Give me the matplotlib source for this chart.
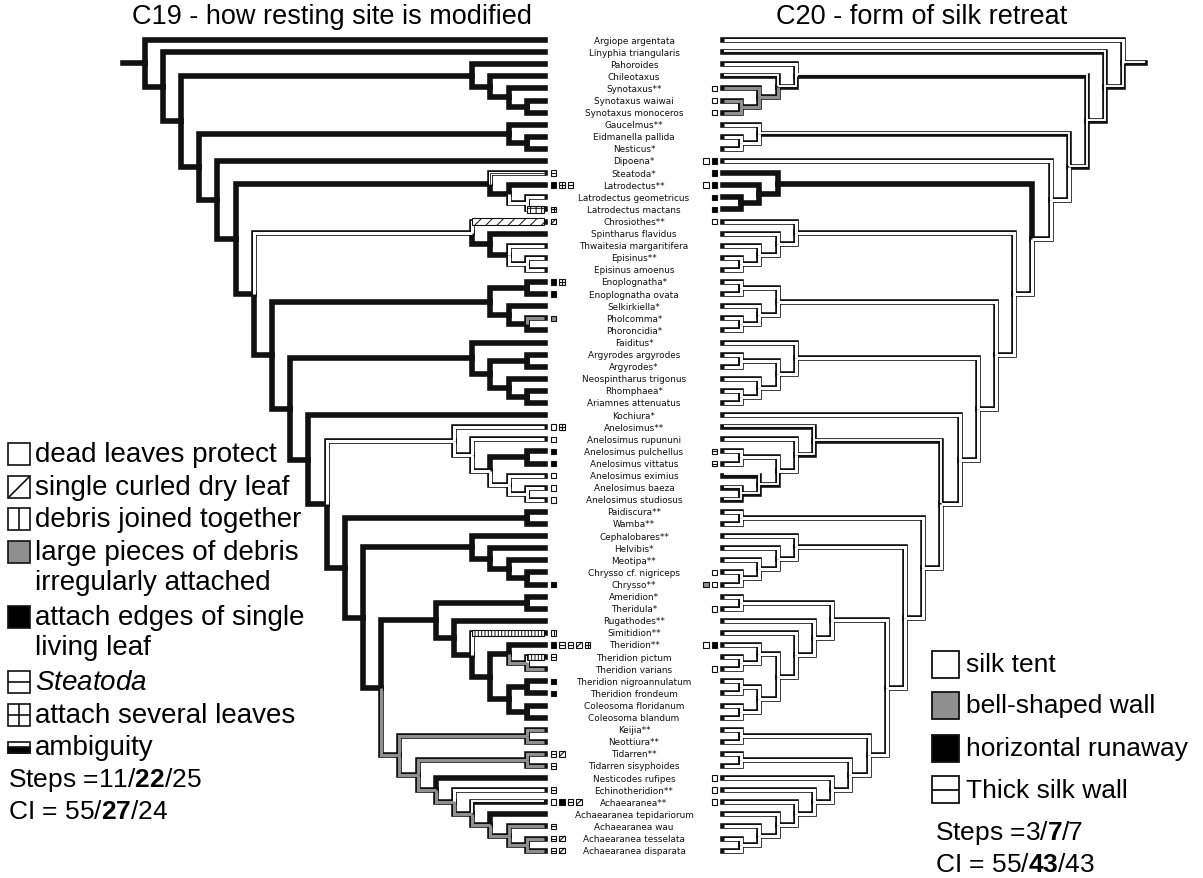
import matplotlib
matplotlib.use("Agg")
import matplotlib.pyplot as plt
from matplotlib.patches import Rectangle

plt.rcParams['font.family'] = ['Liberation Sans', 'DejaVu Sans']
plt.rcParams['mathtext.fontset'] = 'custom'
plt.rcParams['mathtext.rm'] = 'Liberation Sans'
plt.rcParams['mathtext.bf'] = 'Liberation Sans:bold'
plt.rcParams['mathtext.it'] = 'Liberation Sans:italic'
plt.rcParams['hatch.linewidth'] = 0.7

# ---------------- data ----------------
TAXA = [
    "Argiope argentata", "Linyphia triangularis", "Pahoroides", "Chileotaxus",
    "Synotaxus**", "Synotaxus waiwai", "Synotaxus monoceros", "Gaucelmus**",
    "Eidmanella pallida", "Nesticus*", "Dipoena*", "Steatoda*", "Latrodectus**",
    "Latrodectus geometricus", "Latrodectus mactans", "Chrosiothes**",
    "Spintharus flavidus", "Thwaitesia margaritifera", "Episinus**",
    "Episinus amoenus", "Enoplognatha*", "Enoplognatha ovata", "Selkirkiella*",
    "Pholcomma*", "Phoroncidia*", "Faiditus*", "Argyrodes argyrodes",
    "Argyrodes*", "Neospintharus trigonus", "Rhomphaea*", "Ariamnes attenuatus",
    "Kochiura*", "Anelosimus**", "Anelosimus rupununi", "Anelosimus pulchellus",
    "Anelosimus vittatus", "Anelosimus eximius", "Anelosimus baeza",
    "Anelosimus studiosus", "Paidiscura**", "Wamba**", "Cephalobares**",
    "Helvibis*", "Meotipa**", "Chrysso cf. nigriceps", "Chrysso**",
    "Ameridion*", "Theridula*", "Rugathodes**", "Simitidion**", "Theridion**",
    "Theridion pictum", "Theridion varians", "Theridion nigroannulatum",
    "Theridion frondeum", "Coleosoma floridanum", "Coleosoma blandum",
    "Keijia**", "Neottiura**", "Tidarren**", "Tidarren sisyphoides",
    "Nesticodes rufipes", "Echinotheridion**", "Achaearanea**",
    "Achaearanea tepidariorum", "Achaearanea wau", "Achaearanea tesselata",
    "Achaearanea disparata",
]

# clades (as tip indices) hanging off the backbone, top to bottom
SYNOTAXUS = (2, (3, (4, (5, 6))))
NESTICIDS = (7, (8, 9))
LATRODECTUS = (11, (12, (13, 14)))
SPINTHARINES = (15, (16, (17, (18, 19))))
ENOPLOGNATHA = ((20, 21), (22, (23, 24)))
ARGYRODINES = (25, ((26, 27), (28, (29, 30))))
ANELOSIMUS = (32, (33, ((34, 35), (36, (37, 38)))))
PAIDISCURA = (39, 40)
CHRYSSO = (41, (42, (43, (44, 45))))
THERIDION = ((46, 47), (48, (49, ((50, (51, 52)), ((53, 54), (55, 56))))))
KEIJIA = (57, 58)
ACHAEARANEA = ((59, 60), (61, (62, (63, (64, (65, (66, 67)))))))
BACKBONE = [0, 1, SYNOTAXUS, NESTICIDS, 10, LATRODECTUS, SPINTHARINES,
            ENOPLOGNATHA, ARGYRODINES, 31, ANELOSIMUS, PAIDISCURA, CHRYSSO,
            THERIDION, KEIJIA, ACHAEARANEA]

# C19 branch states, keyed by (first tip, last tip) of the clade; default black
C19_STATES = {
    (11, 11): 'steatoda', (13, 14): 'hollow', (13, 13): 'hollow', (14, 14): 'grid',
    (15, 19): 'hollow', (15, 15): 'diag', (17, 17): 'hollow', (18, 19): 'hollow',
    (18, 18): 'hollow', (19, 19): 'hollow', (23, 23): 'gray',
    (32, 38): 'hollow', (32, 32): 'hollow', (33, 38): 'hollow', (33, 33): 'hollow',
    (34, 38): 'hollow', (36, 38): 'hollow', (36, 36): 'hollow', (37, 38): 'hollow',
    (37, 37): 'hollow', (38, 38): 'hollow',
    (49, 49): 'vert', (51, 52): 'gray', (51, 51): 'vert', (52, 52): 'gray',
    (57, 67): 'gray', (57, 58): 'gray', (57, 57): 'gray', (58, 58): 'gray',
    (59, 67): 'gray', (59, 60): 'gray', (59, 59): 'gray', (60, 60): 'gray',
    (61, 67): 'gray', (62, 67): 'gray', (62, 62): 'hollow', (63, 67): 'gray',
    (63, 63): 'amb', (64, 67): 'gray', (65, 67): 'gray', (65, 65): 'gray',
    (66, 67): 'gray', (66, 66): 'gray', (67, 67): 'gray',
}
C19_MARKS = {
    11: ['steatoda'], 12: ['black', 'grid', 'steatoda'], 14: ['grid'],
    15: ['diag'], 20: ['black', 'grid'], 21: ['black'], 23: ['gray'],
    32: ['hollow', 'grid'], 33: ['hollow'], 34: ['black'], 35: ['black'],
    36: ['hollow'], 37: ['hollow'], 38: ['hollow'], 45: ['black'],
    49: ['vert'], 50: ['black', 'steatoda', 'steatoda', 'diag', 'grid'],
    51: ['steatoda'], 53: ['black'], 54: ['black'], 59: ['steatoda', 'diag'],
    60: ['steatoda'], 62: ['steatoda'], 63: ['hollow', 'black', 'steatoda', 'diag'],
    65: ['steatoda'], 66: ['steatoda', 'diag'], 67: ['steatoda', 'diag'],
}
# C20 branch states; default silk tent (hollow)
C20_STATES = {
    (0, 67): 'amb', (1, 67): 'amb', (1, 1): 'amb', (2, 67): 'amb', (2, 6): 'amb',
    (3, 6): 'amb', (3, 3): 'amb', (4, 6): 'gray', (4, 4): 'gray', (5, 6): 'gray',
    (5, 5): 'gray', (6, 6): 'gray', (7, 67): 'amb', (7, 9): 'amb',
    (11, 14): 'black', (11, 11): 'black', (12, 14): 'black', (12, 12): 'black',
    (13, 14): 'black', (13, 13): 'black', (14, 14): 'black',
    (32, 38): 'amb', (32, 32): 'amb', (33, 38): 'amb', (36, 38): 'amb',
    (36, 36): 'amb', (37, 38): 'amb', (37, 37): 'amb', (38, 38): 'amb',
}
C20_MARKS = {
    4: ['hollow'], 5: ['hollow'], 6: ['hollow'], 10: ['hollow', 'black'],
    11: ['black'], 12: ['hollow', 'black'], 13: ['black'], 14: ['black'],
    15: ['hollow'], 34: ['steatoda'], 35: ['steatoda'], 44: ['hollow'],
    45: ['gray', 'hollow'], 47: ['hollow'], 50: ['hollow', 'black'],
    52: ['hollow'], 61: ['hollow'], 62: ['hollow'], 63: ['hollow'],
}

TITLE_C19 = "C19 - how resting site is modified"
TITLE_C20 = "C20 - form of silk retreat"
LEGEND_C19 = [
    ('hollow', 'dead leaves protect'), ('diag', 'single curled dry leaf'),
    ('vert', 'debris joined together'),
    ('gray', 'large pieces of debris\nirregularly attached'),
    ('black', 'attach edges of single\nliving leaf'),
    ('steatoda', r'$\it{Steatoda}$'), ('grid', 'attach several leaves'),
    ('amb', 'ambiguity'),
]
STATS_C19 = [r'Steps =11/$\mathbf{22}$/25', r'CI = 55/$\mathbf{27}$/24']
LEGEND_C20 = [('hollow', 'silk tent'), ('gray', 'bell-shaped wall'),
              ('black', 'horizontal runaway'), ('steatoda', 'Thick silk wall')]
STATS_C20 = [r'Steps =3/$\mathbf{7}$/7', r'CI = 55/$\mathbf{43}$/43']

# ---------------- layout ----------------
W, H = 1203, 879
Y0, DY = 41.0, 12.1
STEP = 18.2
TIP_L, TIP_R = 545.0, 723.0
PX = 0.72          # points per pixel at dpi 100
W_OUT, W_IN = 5.6, 3.0
GRAY = '#8f8f8f'
OUTLINE = '#111111'

tree = BACKBONE[-1]
for clade in reversed(BACKBONE[:-1]):
    tree = (clade, tree)


def layout(node, branches):
    if isinstance(node, int):
        return (Y0 + node * DY, 0, node, node)
    infos = [layout(c, branches) for c in node]
    y = sum(i[0] for i in infos) / len(infos)
    h = 1 + max(i[1] for i in infos)
    for cy, ch, lo, hi in infos:
        branches.append(dict(ph=h, py=y, ch=ch, cy=cy, key=(lo, hi)))
    return (y, h, infos[0][2], infos[-1][3])


BRANCHES = []
ROOT_Y, ROOT_H, _, _ = layout(tree, BRANCHES)

fig = plt.figure(figsize=(W / 100, H / 100), dpi=100)
ax = fig.add_axes([0, 0, 1, 1])
ax.set_xlim(0, W)
ax.set_ylim(H, 0)
ax.axis('off')


def line(xs, ys, color, wpx, z, cap='projecting'):
    ax.plot(xs, ys, color=color, lw=wpx * PX, solid_joinstyle='miter',
            solid_capstyle=cap, zorder=z)


def icon(cx, cy, w, h, st, lw):
    fc = {'black': 'black', 'gray': GRAY}.get(st, 'white')
    x0, x1, y0, y1 = cx - w / 2, cx + w / 2, cy - h / 2, cy + h / 2
    ax.add_patch(Rectangle((x0, y0), w, h, facecolor=fc, edgecolor=OUTLINE,
                           lw=lw, zorder=4))
    kw = dict(color=OUTLINE, lw=lw, zorder=5, solid_capstyle='butt')
    if st == 'diag':
        ax.plot([x0, x1], [y1, y0], **kw)
    if st in ('vert', 'grid'):
        ax.plot([cx, cx], [y0, y1], **kw)
    if st in ('steatoda', 'grid'):
        ax.plot([x0, x1], [cy, cy], **kw)
    if st == 'amb':
        ax.add_patch(Rectangle((x0, cy), w, h / 2, facecolor='black',
                               edgecolor=OUTLINE, lw=lw, zorder=5))


def draw_tree(xfun, states, default, stub_dir, marks, mark_dir):
    items = []
    for b in BRANCHES:
        xp, xc = xfun(b['ph']), xfun(b['ch'])
        items.append(([xp, xp, xc], [b['py'], b['cy'], b['cy']],
                      states.get(b['key'], default), b['ch'] == 0))
    xr = xfun(ROOT_H)
    items.append(([xr + stub_dir * 22, xr], [ROOT_Y, ROOT_Y],
                  states.get((0, len(TAXA) - 1), default), False))
    for xs, ys, st, _ in items:
        line(xs, ys, OUTLINE, W_OUT, 1)
    for xs, ys, st, term in items:
        if st == 'black':
            continue
        xs = list(xs)
        if term:
            d = 1 if xs[-1] > xs[0] else -1
            xs[-1] -= d * 1.4
        if st in ('hollow', 'diag', 'vert', 'grid', 'steatoda'):
            line(xs, ys, 'white', W_IN, 2, cap='butt')
        elif st == 'gray':
            line(xs, ys, GRAY, W_IN, 2, cap='butt')
        elif st == 'amb':
            line(xs, [y - 1.1 for y in ys], 'white', 1.9, 2, cap='butt')
        if st == 'steatoda':
            line(xs, ys, OUTLINE, 0.8, 3, cap='butt')
        if st in ('diag', 'vert', 'grid'):
            hatch = {'diag': '///', 'vert': '|||||', 'grid': '+++'}[st]
            x0, x1 = sorted([xs[1], xs[2]])
            ax.add_patch(Rectangle((x0, ys[2] - 3.2), x1 - x0, 6.4,
                                   facecolor='white', edgecolor=OUTLINE,
                                   lw=0.8, hatch=hatch, zorder=3))
    for tip, lst in marks.items():
        y = Y0 + tip * DY
        n = len(lst)
        for j, st in enumerate(lst):
            if mark_dir > 0:
                cx = TIP_L + 8.5 + j * 8.5
            else:
                cx = TIP_R - 8.5 - (n - 1 - j) * 8.5
            icon(cx, y, 5.6, 5.6, st, 0.8)


draw_tree(lambda h: TIP_L - h * STEP, C19_STATES, 'black', -1, C19_MARKS, 1)
draw_tree(lambda h: TIP_R + h * STEP, C20_STATES, 'hollow', 1, C20_MARKS, -1)

# taxon names
for i, name in enumerate(TAXA):
    ax.text(634, Y0 + i * DY, name, ha='center', va='center', fontsize=6.4,
            family='DejaVu Sans', color='#111111')

# titles
ax.text(332, 17, TITLE_C19, ha='center', va='center', fontsize=19.5)
ax.text(922, 17, TITLE_C20, ha='center', va='center', fontsize=19.5)

# legend C19
LEG_Y = [455, 488, 520, 553, 618, 683, 716, 748]
for (st, label), y in zip(LEGEND_C19, LEG_Y):
    if st == 'amb':
        icon(19, y, 22, 11, st, 1.2)
    else:
        icon(19, y, 22, 22, st, 1.2)
    two = '\n' in label
    ax.text(35, y - (13 if two else 0), label, ha='left',
            va='top' if two else 'center', fontsize=20, linespacing=1.2)
for s, y in zip(STATS_C19, [780, 812]):
    ax.text(8, y, s, ha='left', va='center', fontsize=19)

# legend C20
for (st, label), y in zip(LEGEND_C20, [665, 706, 749, 791]):
    icon(945, y, 27, 27, st, 1.3)
    ax.text(966, y, label, ha='left', va='center', fontsize=19)
for s, y in zip(STATS_C20, [833, 865]):
    ax.text(935, y, s, ha='left', va='center', fontsize=19)

fig.savefig('out.png', dpi=100)
